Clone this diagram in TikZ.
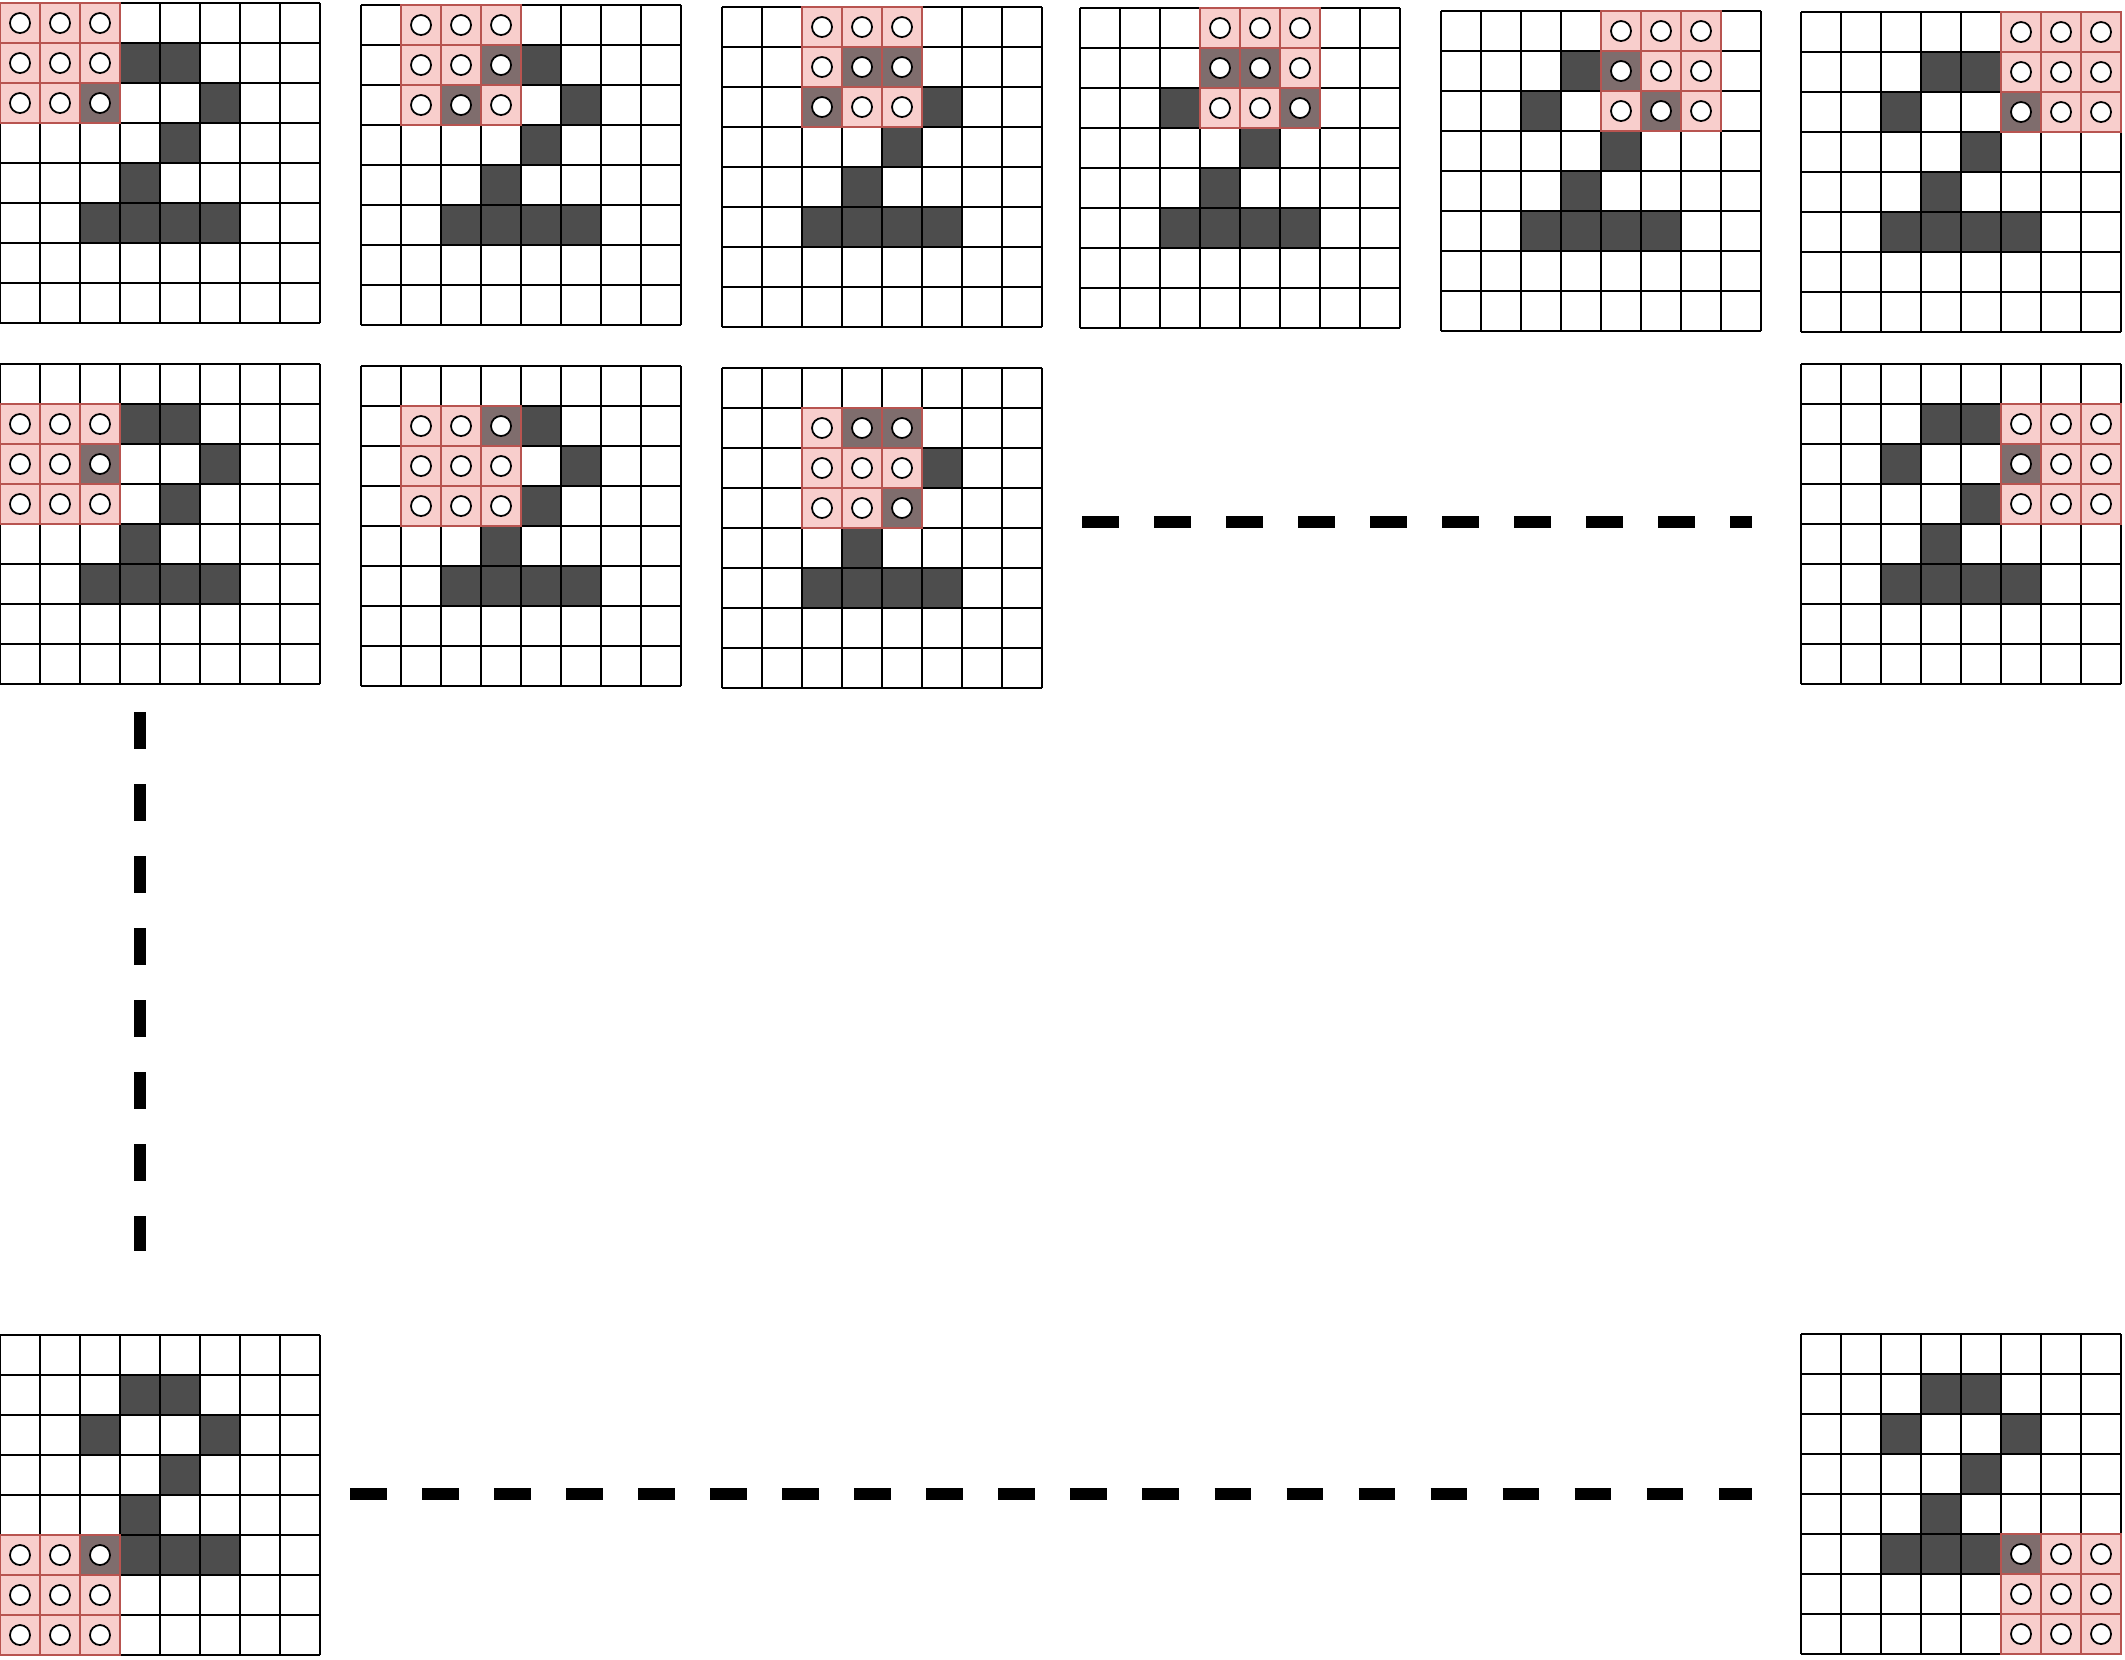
\documentclass[tikz,border=0pt]{standalone}
\usepackage{tikz}

\definecolor{kernelpink}{HTML}{F8CECC}
\definecolor{kernelline}{HTML}{B85450}
\definecolor{digitdark}{HTML}{4D4D4D}
\definecolor{overlapgrey}{HTML}{7F6D6D}

\tikzset{
  gridline/.style={black, line width=0.55pt},
  kernelcell/.style={fill=kernelpink, draw=kernelline, line width=0.35pt},
  overlapcell/.style={fill=overlapgrey, draw=kernelline, line width=0.35pt},
  kernelcircle/.style={fill=white, draw=black, line width=0.5pt},
  skipline/.style={black, line width=3.2pt, dash pattern=on 0.366cm off 0.354cm}
}

% one 8x8 image with the 3x3 window at (row,col); #5 = covered dark cells
\def\digitgrid(#1,#2)(#3,#4)#5{%
  \begin{scope}[shift={(#1,#2)}]
    \foreach \r/\c in {1/3,1/4,2/2,2/5,3/4,4/3,5/2,5/3,5/4,5/5}
      \fill[digitdark] (40*\c,40*\r) rectangle +(40,40);
    \foreach \i in {0,...,8} {
      \draw[gridline] (40*\i,0) -- (40*\i,320);
      \draw[gridline] (0,40*\i) -- (320,40*\i);
    }
    \foreach \r in {0,1,2}
      \foreach \c in {0,1,2}
        \draw[kernelcell] ({40*(#4+\c)},{40*(#3+\r)}) rectangle +(40,40);
    \foreach \r/\c in {#5}
      \draw[overlapcell] (40*\c,40*\r) rectangle +(40,40);
    \foreach \r in {0,1,2}
      \foreach \c in {0,1,2}
        \draw[kernelcircle] ({40*(#4+\c)+20},{40*(#3+\r)+20}) circle[radius=0.1cm];
  \end{scope}}

\begin{document}
\begin{tikzpicture}[x=0.01cm, y=-0.01cm]
  %%%%% START %%%%%
  \useasboundingbox[fill=white] (0,0) rectangle (2125,1659);

  % first row of windows
  \digitgrid(0,3)(0,0){2/2}
  \digitgrid(361,5)(0,1){1/3,2/2}
  \digitgrid(722,7)(0,2){1/3,1/4,2/2}
  \digitgrid(1080,8)(0,3){1/3,1/4,2/5}
  \digitgrid(1441,11)(0,4){1/4,2/5}
  \digitgrid(1801,12)(0,5){2/5}

  % second row of windows
  \digitgrid(0,364)(1,0){2/2}
  \digitgrid(361,366)(1,1){1/3}
  \digitgrid(722,368)(1,2){1/3,1/4,3/4}
  \digitgrid(1801,364)(1,5){2/5}

  % last row of windows
  \digitgrid(0,1335)(5,0){5/2}
  \digitgrid(1801,1334)(5,5){5/5}

  % skipped steps
  \coordinate (rowskipL) at (1082,522);
  \coordinate (rowskipR) at (1752,522);
  \coordinate (colskipT) at (140,712);
  \coordinate (colskipB) at (140,1251);
  \coordinate (lastskipL) at (350,1494);
  \coordinate (lastskipR) at (1752,1494);

  \draw[skipline] (rowskipL) -- (rowskipR);
  \draw[skipline] (colskipT) -- (colskipB);
  \draw[skipline] (lastskipL) -- (lastskipR);

  %%%%% END %%%%%
\end{tikzpicture}
\end{document}
